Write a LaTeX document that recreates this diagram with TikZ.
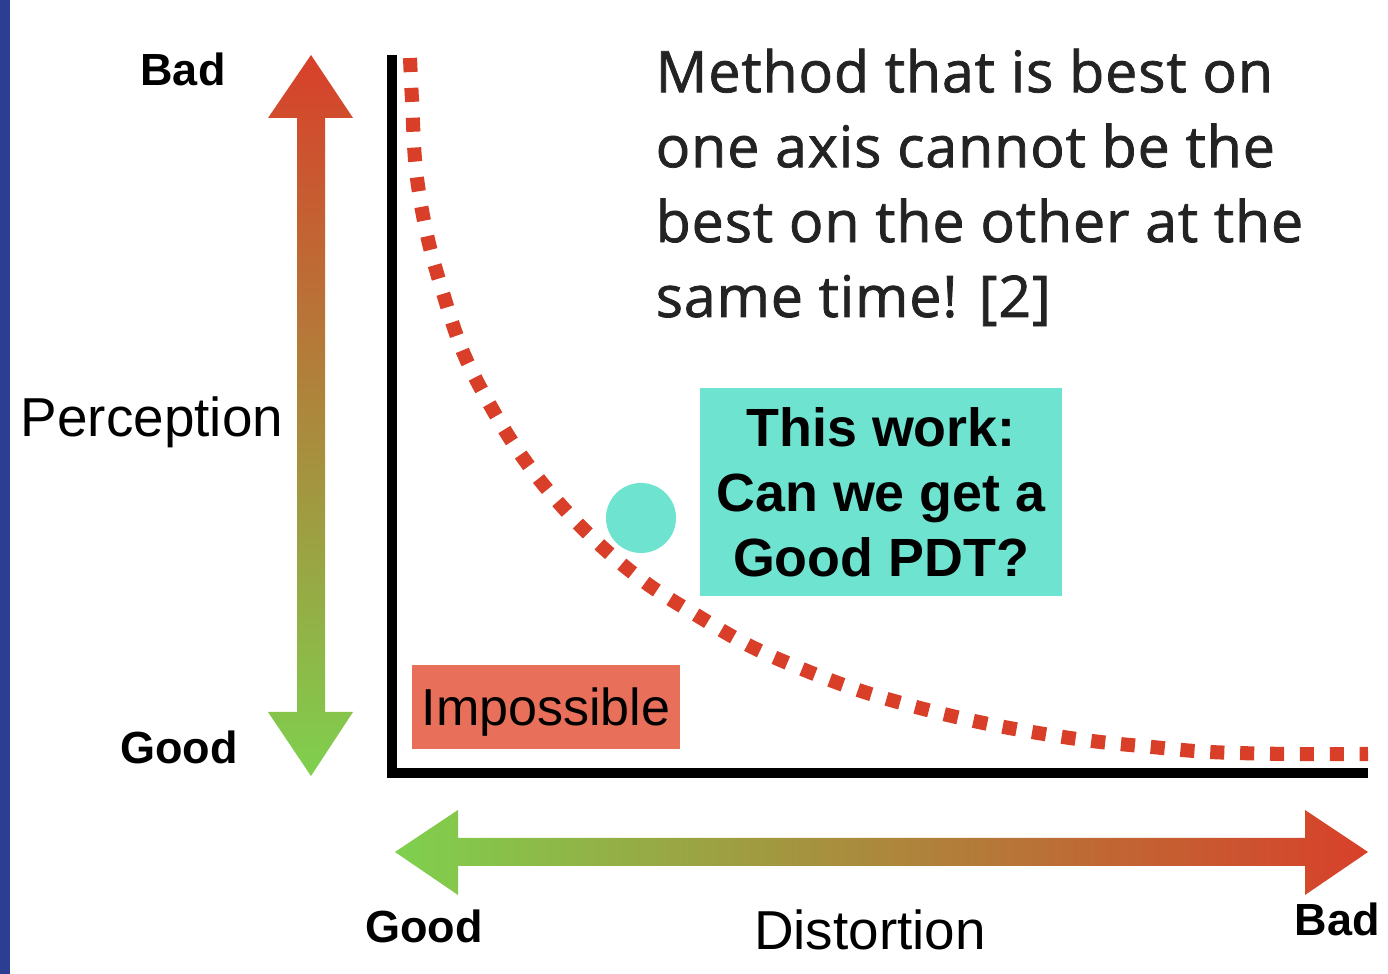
\documentclass[tikz,border=0pt]{standalone}
\usepackage{fontspec}
\setmainfont{Liberation Sans}
\newfontfamily\notefont[FakeBold=1.3, LetterSpace=1.5]{Open Sans}
\usetikzlibrary{positioning}

\definecolor{barblue}{RGB}{44,62,145}
\definecolor{badred}{RGB}{216,64,42}
\definecolor{goodgreen}{RGB}{127,208,78}
\definecolor{frontred}{RGB}{216,62,40}
\definecolor{workcyan}{RGB}{110,227,208}
\definecolor{nogored}{RGB}{232,111,90}
\definecolor{notegray}{RGB}{35,35,35}

\tikzset{x=0.01cm, y=-0.01cm,
  endlabel/.style={inner sep=0pt, font=\bfseries\fontsize{12.8}{14}\selectfont},
  axisname/.style={inner sep=0pt, font=\fontsize{15.6}{18}\selectfont},
  frontier/.style={frontred, line width=4pt, dash pattern=on 4pt off 4.5pt},
}

\begin{document}
\begin{tikzpicture}
  \useasboundingbox (0,0) rectangle (1388,974);
  \fill[barblue] (0,0) rectangle (10,974);

  % perception arrow, bad on top
  \shade[top color=badred, bottom color=goodgreen]
    (311,55) -- (353,118) -- (325,118) -- (325,712) -- (353,712) -- (311,776)
    -- (268,712) -- (297,712) -- (297,118) -- (268,118) -- cycle;
  % distortion arrow, bad on the right
  \shade[left color=goodgreen, right color=badred]
    (395,852) -- (458,810) -- (458,838) -- (1305,838) -- (1305,810) -- (1368,852)
    -- (1305,895) -- (1305,866) -- (458,866) -- (458,895) -- cycle;

  \node[endlabel, anchor=base] (badP)  at (183,86)  {Bad};
  \node[endlabel, anchor=base] (goodP) at (179,764) {Good};
  \node[axisname, anchor=base] (percep) at (152,437) {Perception};
  \node[endlabel, anchor=base] (goodD) at (424,943) {Good};
  \node[axisname, anchor=base] (distort) at (870,950) {Distortion};
  \node[endlabel, anchor=base] (badD)  at (1337,936) {Bad};

  % axes
  \draw[line width=2.85pt] (392,55) -- (392,773) -- (1368,773);

  % trade-off frontier
  \draw[frontier] plot[smooth, tension=0.6] coordinates {(410,58) (412,100) (416,170)
    (427,235) (443,293) (463,352) (490,405) (521,455) (558,502) (600,545) (646,583)
    (693,613) (748,645) (802,669) (858,690) (916,707) (974,721) (1032,732) (1092,741)
    (1152,747) (1210,752) (1290,754) (1368,754)};

  \node[fill=nogored, minimum width=2.67cm, minimum height=0.84cm, inner sep=0pt,
        text height=0.37cm, text depth=0pt,
        font=\fontsize{14.8}{17}\selectfont] (nogo) at (546,707) {Impossible};

  \node[circle, fill=workcyan, minimum size=0.7cm, inner sep=0pt] (ours) at (641,518) {};
  \node[fill=workcyan, minimum width=3.61cm, minimum height=2.07cm, inner sep=0pt,
        align=center, font=\bfseries\fontsize{15.3}{18.5}\selectfont] (work) at (881,492)
        {This work:\\Can we get a\\Good PDT?};

  \node[anchor=north west, inner sep=0pt, align=left, text=notegray,
        font=\notefont\fontsize{16.3}{21.3}\selectfont] (claim) at (655,48)
        {Method that is best on\\one axis cannot be the\\best on the other at the\\same time! [2]};
\end{tikzpicture}
\end{document}
